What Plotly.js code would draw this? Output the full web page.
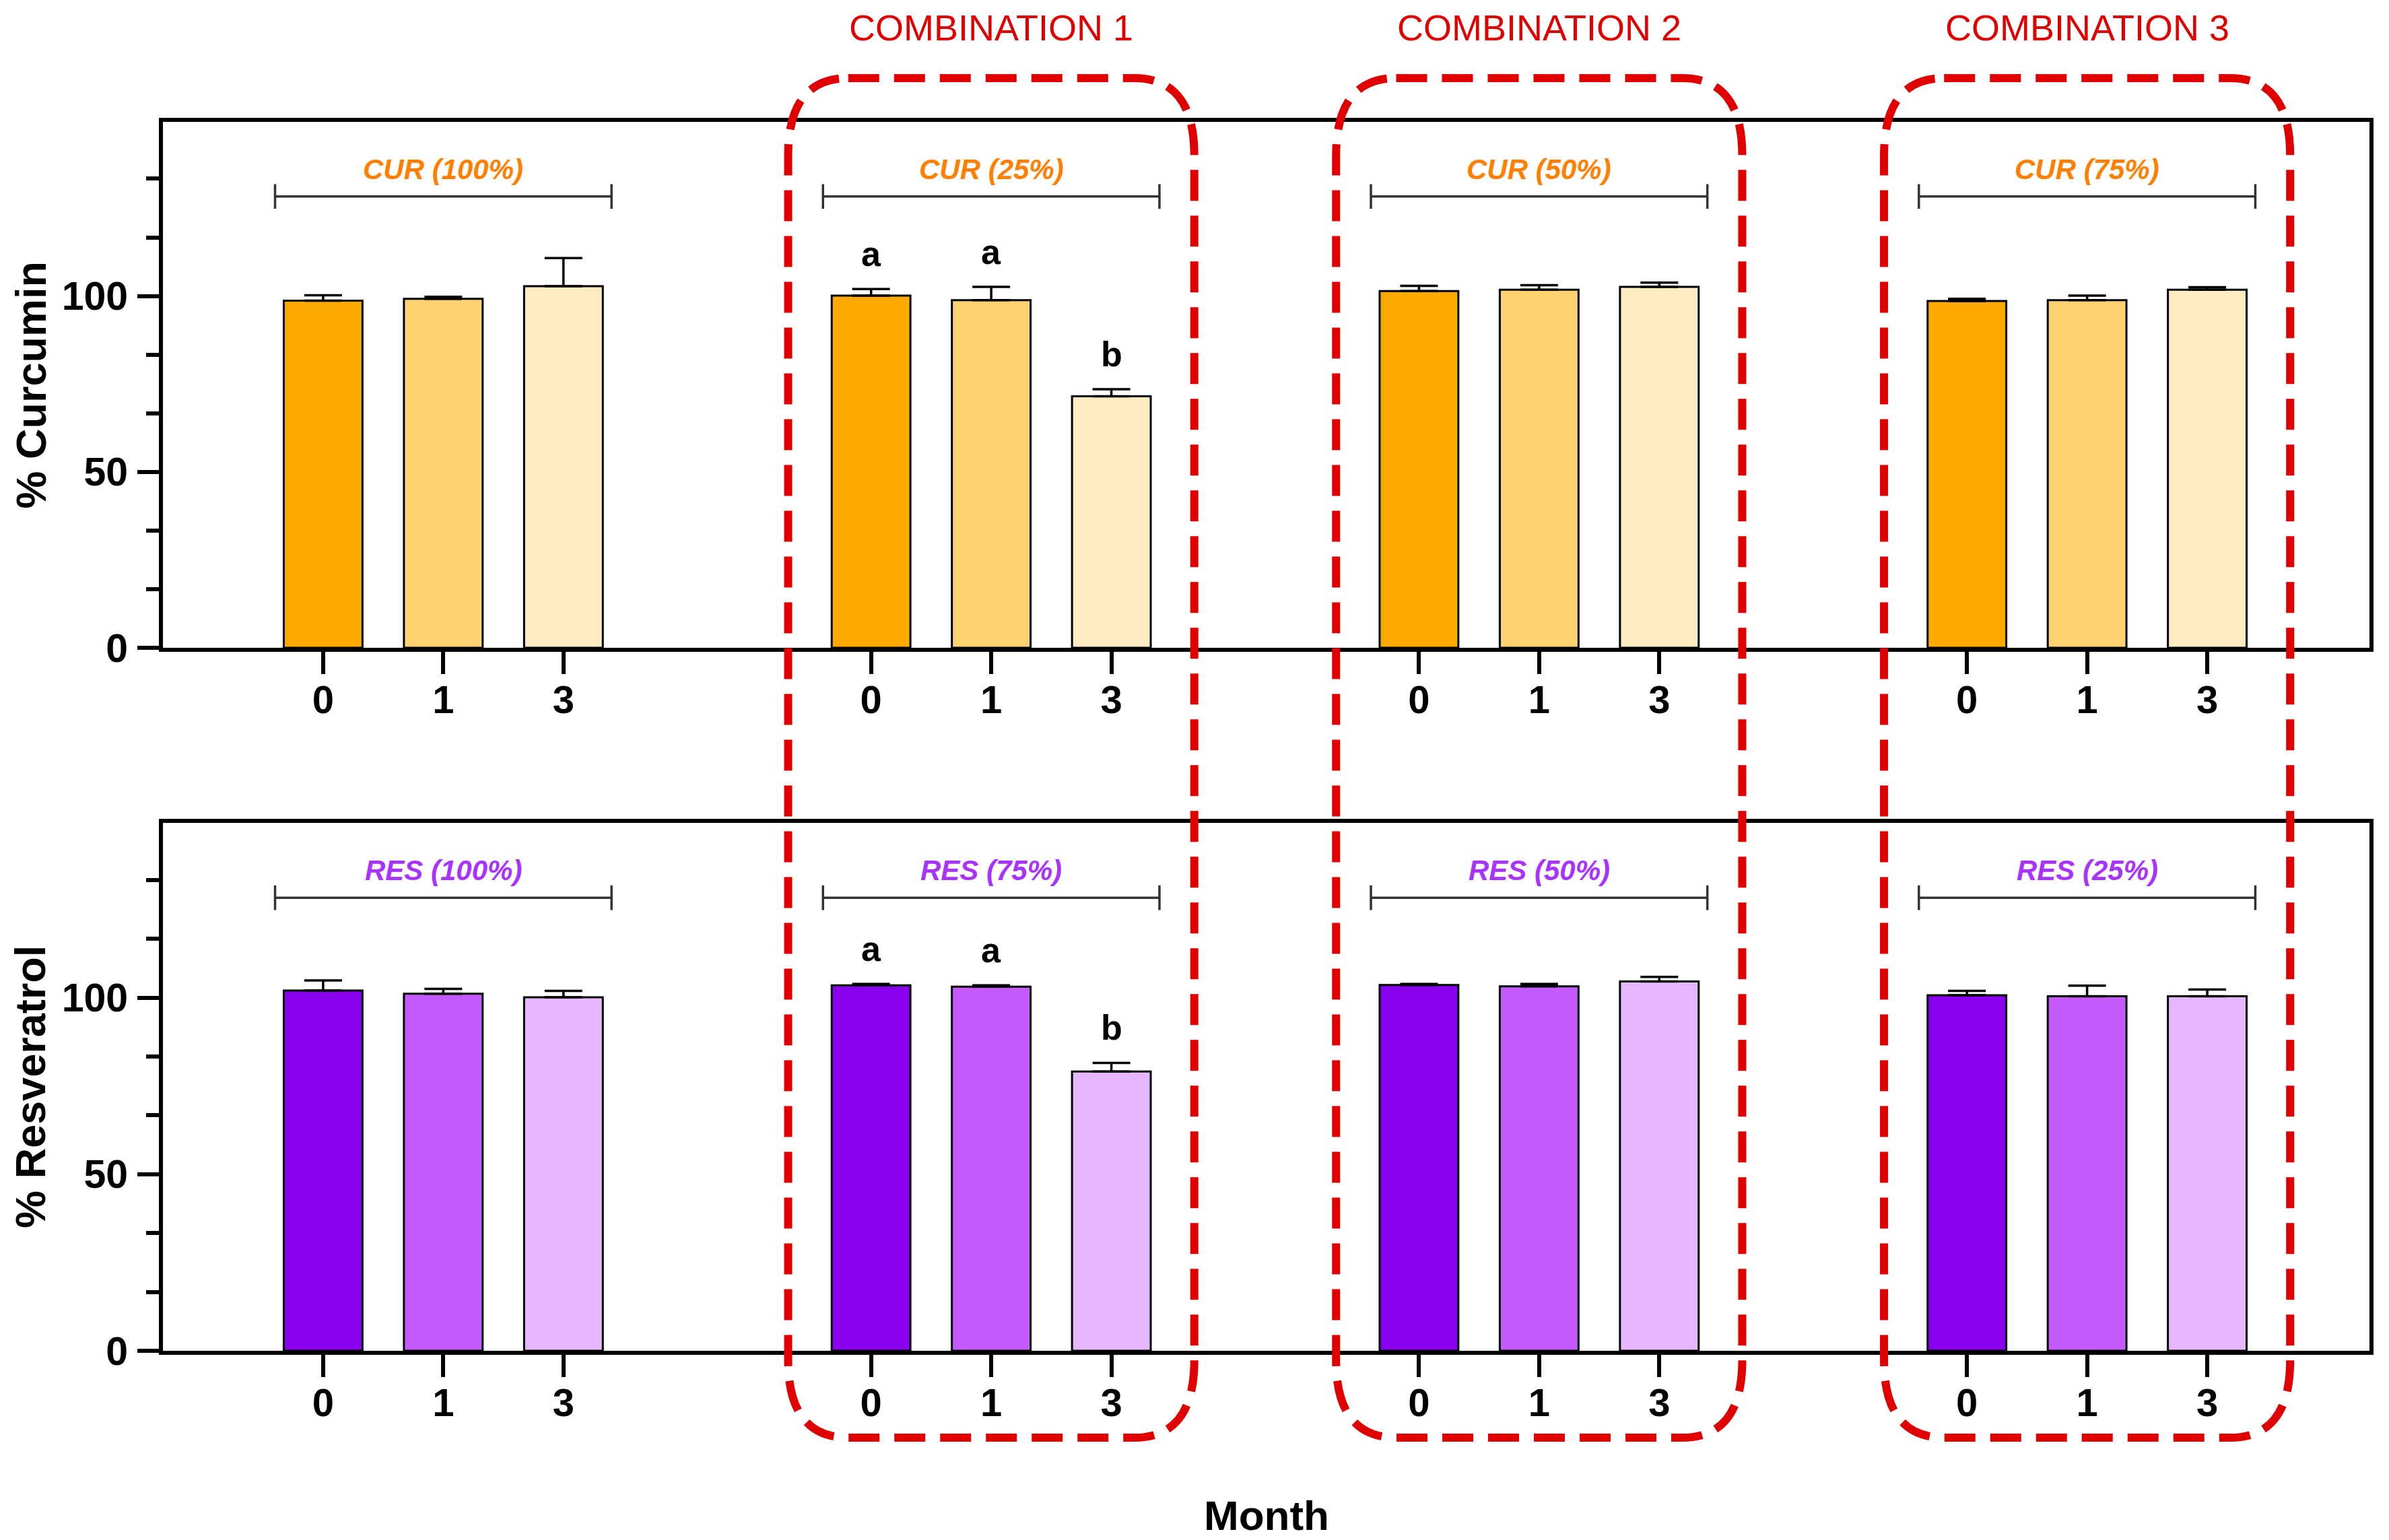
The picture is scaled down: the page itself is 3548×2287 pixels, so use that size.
<!DOCTYPE html>
<html>
<head>
<meta charset="utf-8">
<script src="https://cdn.plot.ly/plotly-3.0.1.min.js"></script>
<style>html,body{margin:0;padding:0;background:#fff;}#chart{width:3548px;height:2287px;}</style>
</head>
<body>
<div id="chart"></div>
<script>
// ---------- data ----------
const months = ['0', '1', '3'];
const combinationLabels = ['COMBINATION 1', 'COMBINATION 2', 'COMBINATION 3'];
const curGroupLabels = ['CUR (100%)', 'CUR (25%)', 'CUR (50%)', 'CUR (75%)'];
const resGroupLabels = ['RES (100%)', 'RES (75%)', 'RES (50%)', 'RES (25%)'];

// % Curcumin, one array per month, one value per group
const curMonth0 = [98.7, 100.1, 101.4, 98.6];
const curMonth1 = [99.2, 98.8, 101.8, 98.8];
const curMonth3 = [102.8, 71.5, 102.6, 101.8];
const curErr0 = [1.5, 1.9, 1.5, 0.6];
const curErr1 = [0.6, 3.8, 1.3, 1.3];
const curErr3 = [8.0, 2.0, 1.2, 0.7];

// % Resveratrol
const resMonth0 = [102.0, 103.5, 103.6, 100.7];
const resMonth1 = [101.1, 103.1, 103.2, 100.4];
const resMonth3 = [100.1, 79.1, 104.6, 100.4];
const resErr0 = [2.9, 0.4, 0.3, 1.2];
const resErr1 = [1.4, 0.4, 0.7, 3.0];
const resErr3 = [1.8, 2.4, 1.3, 1.9];

// significance letters (combination 1 group only)
const letterGroup = 1;
const letters = ['a', 'a', 'b'];

const yTickVals = [0, 50, 100];

// ---------- style ----------
const FONT = 'Liberation Sans, Arial, Helvetica, sans-serif';
const curColors = ['#FFAA00', '#FFD270', '#FFEBC0'];
const resColors = ['#8800EE', '#C55AFF', '#E6B6FF'];
const curTextColor = '#FF8000';
const resTextColor = '#A833FF';
const red = '#E00000';
const groupStep = 4.56;
const barWidth = 0.655;

const W = 3548, H = 2287;
const xDomain = [242 / W, 3519 / W];
const topDomain = [1 - 962 / H, 1 - 181 / H];
const botDomain = [1 - 2006 / H, 1 - 1222 / H];

const groupIdx = [0, 1, 2, 3];
const xPos = (g, m) => g * groupStep + m;

function panelTraces(series, errs, colors, xa, ya) {
  return series.map((vals, m) => ({
    type: 'bar',
    x: groupIdx.map(g => xPos(g, m)),
    y: vals,
    width: barWidth,
    xaxis: xa, yaxis: ya,
    marker: {color: colors[m], line: {color: '#000', width: 3}},
    error_y: {type: 'data', symmetric: false, array: errs[m], arrayminus: vals.map(() => 0),
              color: '#000', thickness: 3.5, width: 28},
    hoverinfo: 'skip', showlegend: false
  }));
}

const traces = [
  ...panelTraces([curMonth0, curMonth1, curMonth3], [curErr0, curErr1, curErr3], curColors, 'x', 'y'),
  ...panelTraces([resMonth0, resMonth1, resMonth3], [resErr0, resErr1, resErr3], resColors, 'x2', 'y2')
];

const tickVals = [];
const tickText = [];
groupIdx.forEach(g => months.forEach((mo, m) => { tickVals.push(xPos(g, m)); tickText.push(mo); }));

function xAxis(domainAnchor) {
  return {
    domain: xDomain, anchor: domainAnchor, range: [-1.333, 17.03],
    tickmode: 'array', tickvals: tickVals, ticktext: tickText,
    ticks: 'outside', ticklen: 33, tickwidth: 6, tickcolor: '#000',
    ticklabelstandoff: -12,
    tickfont: {family: FONT, size: 58, color: '#000', weight: 'bold'},
    showline: true, linewidth: 6, linecolor: '#000', mirror: true,
    showgrid: false, zeroline: false, fixedrange: true
  };
}
function yAxis(domain, anchor) {
  return {
    domain: domain, anchor: anchor, range: [0, 149.5],
    tickmode: 'array', tickvals: yTickVals,
    ticks: 'outside', ticklen: 32, tickwidth: 6, tickcolor: '#000',
    ticklabelstandoff: 2,
    tickfont: {family: FONT, size: 59, color: '#000', weight: 'bold'},
    minor: {ticks: 'outside', ticklen: 19, tickwidth: 6, tickcolor: '#000',
            tickmode: 'linear', tick0: 0, dtick: 50 / 3},
    showline: true, linewidth: 6, linecolor: '#000', mirror: true,
    showgrid: false, zeroline: false, fixedrange: true
  };
}

const shapes = [];
const annotations = [];

// brackets + group labels
function addBrackets(labels, color, xref, yref) {
  labels.forEach((lab, g) => {
    const x0 = xPos(g, 0) - 0.4, x1 = xPos(g, 2) + 0.4, yb = 128.3, cap = 3.5;
    const ln = {color: '#333', width: 3.5};
    shapes.push({type: 'line', xref, yref, x0, x1, y0: yb, y1: yb, line: ln, layer: 'above'});
    shapes.push({type: 'line', xref, yref, x0, x1: x0, y0: yb - cap, y1: yb + cap, line: ln, layer: 'above'});
    shapes.push({type: 'line', xref, yref, x0: x1, x1, y0: yb - cap, y1: yb + cap, line: ln, layer: 'above'});
    annotations.push({xref, yref, x: xPos(g, 1), y: 136.0, text: '<b><i>' + lab + '</i></b>',
      showarrow: false, xanchor: 'center', yanchor: 'middle',
      font: {family: FONT, size: 42, color: color}});
  });
}
addBrackets(curGroupLabels, curTextColor, 'x', 'y');
addBrackets(resGroupLabels, resTextColor, 'x2', 'y2');

// significance letters
function addLetters(series, errs, xref, yref) {
  letters.forEach((t, m) => {
    annotations.push({xref, yref, x: xPos(letterGroup, m),
      y: series[m][letterGroup] + errs[m][letterGroup] + 10,
      text: '<b>' + t + '</b>', showarrow: false, xanchor: 'center', yanchor: 'middle',
      font: {family: FONT, size: 52, color: '#000'}});
  });
}
addLetters([curMonth0, curMonth1, curMonth3], [curErr0, curErr1, curErr3], 'x', 'y');
addLetters([resMonth0, resMonth1, resMonth3], [resErr0, resErr1, resErr3], 'x2', 'y2');

// red dashed rounded boxes around combinations
const boxTop = 1 - 116 / H, boxBot = 1 - 2135 / H;
const rx = 0.5, ry = 115 / H;
combinationLabels.forEach((lab, i) => {
  const g = i + 1;
  const x0 = xPos(g, 0) - 0.69, x1 = xPos(g, 2) + 0.69;
  const y0 = boxBot, y1 = boxTop;
  const path = `M ${x0 + rx},${y1} L ${x1 - rx},${y1} Q ${x1},${y1} ${x1},${y1 - ry} ` +
    `L ${x1},${y0 + ry} Q ${x1},${y0} ${x1 - rx},${y0} L ${x0 + rx},${y0} ` +
    `Q ${x0},${y0} ${x0},${y0 + ry} L ${x0},${y1 - ry} Q ${x0},${y1} ${x0 + rx},${y1} Z`;
  shapes.push({type: 'path', xref: 'x', yref: 'paper', path,
    line: {color: red, width: 12, dash: '46px,22px'}, layer: 'above'});
  annotations.push({xref: 'x', yref: 'paper', x: xPos(g, 1), y: 1 - 41 / H, text: lab,
    showarrow: false, xanchor: 'center', yanchor: 'middle',
    font: {family: FONT, size: 54, color: red}});
});

// axis titles
annotations.push({xref: 'paper', yref: 'paper', x: 45 / W, y: (topDomain[0] + topDomain[1]) / 2,
  text: '<b>% Curcumin</b>', textangle: -90, showarrow: false, xanchor: 'center', yanchor: 'middle',
  font: {family: FONT, size: 63, color: '#000'}});
annotations.push({xref: 'paper', yref: 'paper', x: 45 / W, y: (botDomain[0] + botDomain[1]) / 2,
  text: '<b>% Resveratrol</b>', textangle: -90, showarrow: false, xanchor: 'center', yanchor: 'middle',
  font: {family: FONT, size: 63, color: '#000'}});
annotations.push({xref: 'paper', yref: 'paper', x: (xDomain[0] + xDomain[1]) / 2, y: 0,
  text: '<b>Month</b>', showarrow: false, xanchor: 'center', yanchor: 'bottom',
  font: {family: FONT, size: 62, color: '#000'}});

const layout = {
  width: W, height: H,
  margin: {l: 0, r: 0, t: 0, b: 0},
  paper_bgcolor: '#fff', plot_bgcolor: '#fff',
  barmode: 'overlay', showlegend: false,
  font: {family: FONT, color: '#000'},
  xaxis: xAxis('y'), yaxis: yAxis(topDomain, 'x'),
  xaxis2: xAxis('y2'), yaxis2: yAxis(botDomain, 'x2'),
  shapes, annotations
};

Plotly.newPlot('chart', traces, layout, {staticPlot: true, displayModeBar: false});
</script>
</body>
</html>
